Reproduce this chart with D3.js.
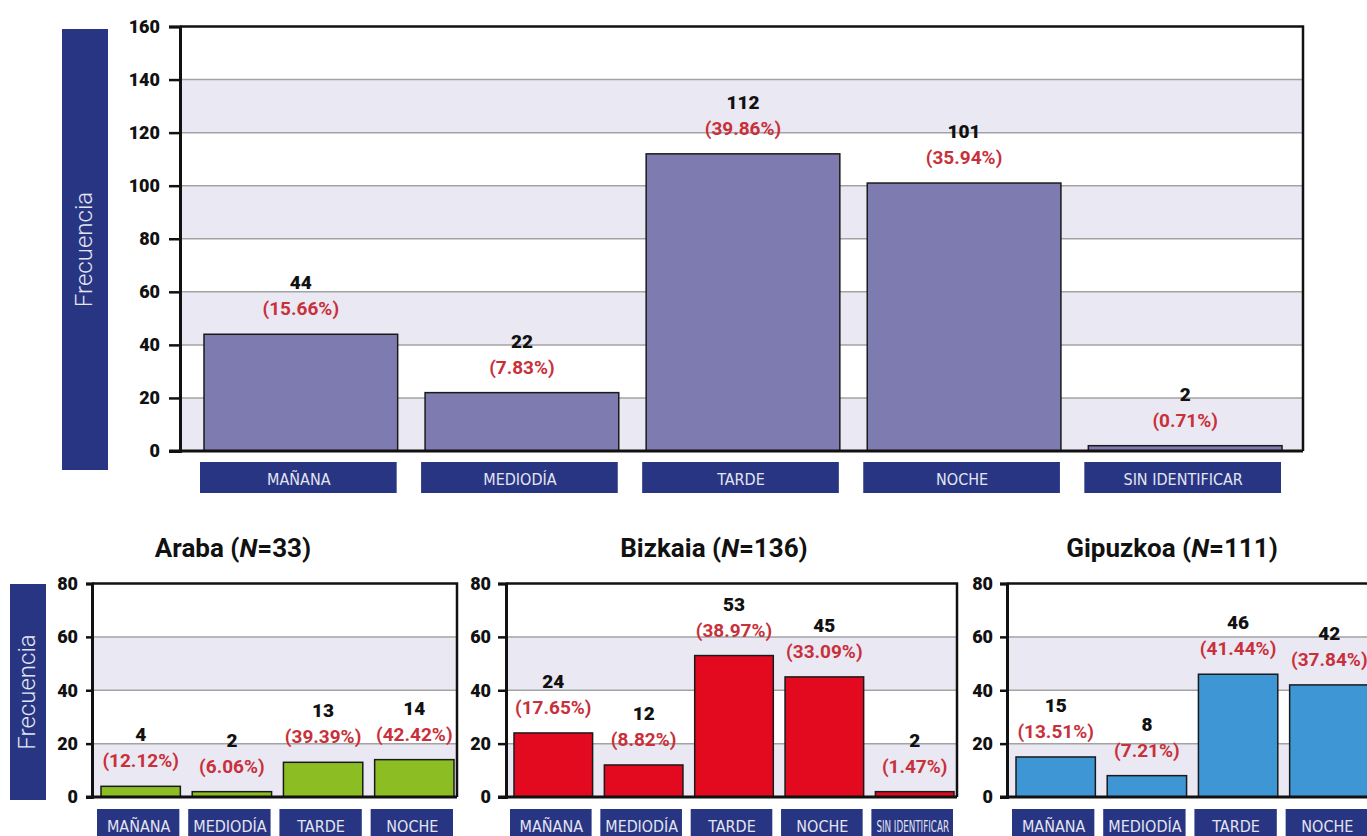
<!DOCTYPE html>
<html>
<head>
<meta charset="utf-8">
<script src="https://cdn.jsdelivr.net/npm/d3@7"></script>
<style>
  body { margin: 0; background: #fff; }
  svg { display: block; }
  .tick-lbl { font-family: Roboto, sans-serif; font-weight: 900; font-size: 18px; fill: #111; }
  .cnt { font-family: Roboto, sans-serif; font-weight: 900; font-size: 19px; fill: #111; }
  .pct { font-family: Roboto, sans-serif; font-weight: 700; font-size: 19px; fill: #c8303a; }
  .cat { font-family: "Liberation Sans Narrow", "DejaVu Sans Condensed", sans-serif; font-stretch: condensed; font-size: 16px; fill: #e3e5f3; }
  .ylab { font-family: Roboto, sans-serif; font-weight: 300; font-size: 24px; fill: #e3e5f3; }
  .title { font-family: Roboto, sans-serif; font-weight: 700; font-size: 26px; fill: #111; }
</style>
</head>
<body>
<div id="chart"></div>
<script>
// data
var categories = ["MAÑANA", "MEDIODÍA", "TARDE", "NOCHE", "SIN IDENTIFICAR"];
var totalCounts = [44, 22, 112, 101, 2];
var totalPcts = ["15.66", "7.83", "39.86", "35.94", "0.71"];

var arabaCounts = [4, 2, 13, 14];
var arabaPcts = ["12.12", "6.06", "39.39", "42.42"];

var bizkaiaCounts = [24, 12, 53, 45, 2];
var bizkaiaPcts = ["17.65", "8.82", "38.97", "33.09", "1.47"];

var gipuzkoaCounts = [15, 8, 46, 42];
var gipuzkoaPcts = ["13.51", "7.21", "41.44", "37.84"];

var topTicks = [0, 20, 40, 60, 80, 100, 120, 140, 160];
var smallTicks = [0, 20, 40, 60, 80];

var boxBlue = "#283582";
var shade = "#eae8f3";

var svg = d3.select("#chart").append("svg")
  .attr("width", 1367)
  .attr("height", 836);

function drawPanel(cfg) {
  var g = svg.append("g");
  var cats = categories.slice(0, cfg.counts.length);

  var y = d3.scaleLinear()
    .domain([0, cfg.max])
    .range([cfg.yBot, cfg.yTop]);

  var x = d3.scaleBand()
    .domain(cats)
    .range(cfg.bandRange)
    .paddingInner(cfg.pad)
    .paddingOuter(0);

  // shaded stripes
  var stripes = [];
  for (var i = 0; i < cfg.ticks.length - 1; i += 2) stripes.push([cfg.ticks[i], cfg.ticks[i + 1]]);
  g.selectAll(".stripe").data(stripes).enter().append("rect")
    .attr("x", cfg.x0)
    .attr("width", cfg.x1 - cfg.x0)
    .attr("y", function(d) { return y(d[1]); })
    .attr("height", function(d) { return y(d[0]) - y(d[1]); })
    .attr("fill", shade);

  // grid lines
  g.selectAll(".grid").data(cfg.ticks.slice(1, -1)).enter().append("line")
    .attr("x1", cfg.x0).attr("x2", cfg.x1)
    .attr("y1", function(d) { return y(d); })
    .attr("y2", function(d) { return y(d); })
    .attr("stroke", "#a3a3a3")
    .attr("stroke-width", 1.5);

  // bars
  g.selectAll(".bar").data(cfg.counts).enter().append("rect")
    .attr("x", function(d, i) { return x(cats[i]); })
    .attr("width", x.bandwidth())
    .attr("y", function(d) { return y(d); })
    .attr("height", function(d) { return cfg.yBot - y(d); })
    .attr("fill", cfg.color)
    .attr("stroke", "#1a1a1a")
    .attr("stroke-width", 1.5);

  // frame (top, right)
  g.append("path")
    .attr("d", "M" + cfg.x0 + "," + cfg.yTop + "H" + cfg.x1 + "V" + cfg.yBot)
    .attr("fill", "none")
    .attr("stroke", "#111")
    .attr("stroke-width", 2.5);

  // y axis
  var axis = g.append("g")
    .attr("transform", "translate(" + cfg.x0 + ",0)")
    .call(d3.axisLeft(y).tickValues(cfg.ticks).tickSize(cfg.tickLen).tickPadding(cfg.tickPad));
  axis.select(".domain").attr("stroke", "#111").attr("stroke-width", 3);
  axis.selectAll(".tick line").attr("stroke", "#111").attr("stroke-width", 2.5);
  axis.selectAll(".tick text").attr("class", "tick-lbl").attr("fill", null);

  // bottom axis line
  g.append("line")
    .attr("x1", cfg.x0 - cfg.tickLen).attr("x2", cfg.x1)
    .attr("y1", cfg.yBot).attr("y2", cfg.yBot)
    .attr("stroke", "#111")
    .attr("stroke-width", 3);

  // value labels
  g.selectAll(".cnt").data(cfg.counts).enter().append("text")
    .attr("class", "cnt")
    .attr("text-anchor", "middle")
    .attr("x", function(d, i) { return x(cats[i]) + x.bandwidth() / 2; })
    .attr("y", function(d) { return y(d) - 45; })
    .text(function(d) { return d; });

  g.selectAll(".pct").data(cfg.pcts).enter().append("text")
    .attr("class", "pct")
    .attr("text-anchor", "middle")
    .attr("x", function(d, i) { return x(cats[i]) + x.bandwidth() / 2; })
    .attr("y", function(d, i) { return y(cfg.counts[i]) - 19; })
    .text(function(d) { return "(" + d + "%)"; });

  // category boxes
  var boxes = g.selectAll(".catbox").data(cats).enter().append("g");
  boxes.append("rect")
    .attr("x", function(d) { return x(d) - 4; })
    .attr("width", x.bandwidth() + 3)
    .attr("y", cfg.boxY)
    .attr("height", cfg.boxH)
    .attr("fill", boxBlue);
  boxes.append("text")
    .attr("class", "cat")
    .attr("text-anchor", "middle")
    .attr("x", function(d) { return x(d) + x.bandwidth() / 2 - 2; })
    .attr("y", cfg.boxY + cfg.textDy)
    .text(function(d) { return d; })
    .each(function() {
      var w = this.getComputedTextLength();
      var max = x.bandwidth() - 6;
      if (w > max) {
        d3.select(this).attr("textLength", max).attr("lengthAdjust", "spacingAndGlyphs");
      }
    });

  // y title band
  if (cfg.yband) {
    var b = cfg.yband;
    g.append("rect")
      .attr("x", b[0]).attr("y", b[1]).attr("width", b[2]).attr("height", b[3])
      .attr("fill", boxBlue);
    g.append("text")
      .attr("class", "ylab")
      .attr("text-anchor", "middle")
      .attr("transform", "translate(" + (b[0] + b[2] / 2 + 7) + "," + (b[1] + b[3] / 2) + ") rotate(-90)")
      .text("Frecuencia");
  }

  // title
  if (cfg.title) {
    var t = g.append("text")
      .attr("class", "title")
      .attr("text-anchor", "middle")
      .attr("x", cfg.titleX)
      .attr("y", 557);
    t.append("tspan").text(cfg.title + " (");
    t.append("tspan").attr("font-style", "italic").text("N");
    t.append("tspan").text("=" + cfg.n + ")");
  }
}

drawPanel({
  counts: totalCounts, pcts: totalPcts, color: "#7e7bb1",
  x0: 180, x1: 1303, yTop: 26.5, yBot: 451, max: 160, ticks: topTicks,
  bandRange: [204, 1282], pad: 0.124, tickLen: 11, tickPad: 9,
  boxY: 462, boxH: 31, textDy: 23,
  yband: [62, 29, 46, 441]
});

drawPanel({
  counts: arabaCounts, pcts: arabaPcts, color: "#8cbd22",
  x0: 92, x1: 457, yTop: 583.5, yBot: 797, max: 80, ticks: smallTicks,
  bandRange: [101, 454], pad: 0.13, tickLen: 6, tickPad: 8,
  boxY: 809, boxH: 30, textDy: 23,
  yband: [10, 584, 36, 216],
  title: "Araba", n: 33, titleX: 233
});

drawPanel({
  counts: bizkaiaCounts, pcts: bizkaiaPcts, color: "#e30a20",
  x0: 506, x1: 957, yTop: 583.5, yBot: 797, max: 80, ticks: smallTicks,
  bandRange: [514, 954], pad: 0.13, tickLen: 8, tickPad: 7,
  boxY: 809, boxH: 30, textDy: 23,
  title: "Bizkaia", n: 136, titleX: 714
});

drawPanel({
  counts: gipuzkoaCounts, pcts: gipuzkoaPcts, color: "#3e97d4",
  x0: 1007, x1: 1372, yTop: 583.5, yBot: 797, max: 80, ticks: smallTicks,
  bandRange: [1016, 1369], pad: 0.13, tickLen: 7, tickPad: 7,
  boxY: 809, boxH: 30, textDy: 23,
  title: "Gipuzkoa", n: 111, titleX: 1172
});
</script>
</body>
</html>
